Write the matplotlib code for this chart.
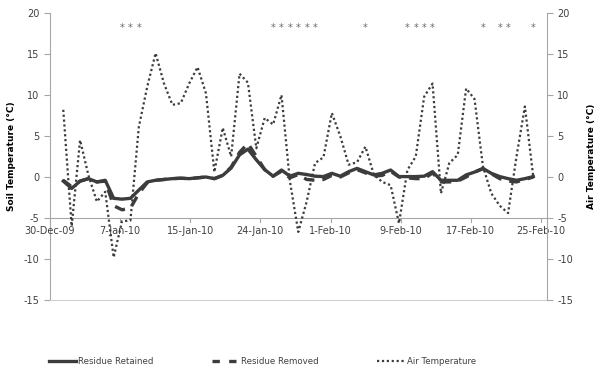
import numpy as np
import matplotlib
matplotlib.use("Agg")
import matplotlib.pyplot as plt
from matplotlib.lines import Line2D

plt.rcParams['axes.unicode_minus'] = False

# daily readings (index 0 = first reading after 30-Dec-09)
air = [8.2, -6.0, 4.5, 0.2, -3.0, -1.8, -9.8, -5.4, -5.3, 6.1,
       11.0, 15.1, 11.4, 8.8, 9.0, 11.4, 13.4, 10.2, 0.6, 6.0,
       2.5, 12.6, 11.5, 3.5, 7.2, 6.4, 10.0, -0.5, -6.7, -3.0,
       1.7, 2.4, 7.8, 5.0, 1.5, 1.8, 3.7, 0.3, -0.6, -1.0,
       -5.65, 0.85, 2.5, 9.8, 11.4, -2.0, 1.7, 2.7, 10.8, 9.5,
       1.3, -2.0, -3.5, -4.4, 2.5, 8.6, 0.0]

retained = [-0.5, -1.4, -0.5, -0.2, -0.6, -0.4, -2.6, -2.7, -2.6, -1.6,
            -0.6, -0.4, -0.3, -0.2, -0.15, -0.2, -0.1, 0.0, -0.2, 0.2,
            1.1, 2.7, 3.4, 2.1, 0.9, 0.1, 0.85, 0.1, 0.45, 0.3,
            0.1, 0.05, 0.45, 0.1, 0.65, 1.05, 0.65, 0.25, 0.45, 0.85,
            0.05, 0.05, 0.05, 0.1, 0.65, -0.4, -0.4, -0.4, 0.25, 0.6,
            1.05, 0.45, 0.05, -0.2, -0.4, -0.2, 0.05]

removed = [-0.4, -1.2, -0.5, -0.2, -0.6, -0.5, -3.5, -4.0, -3.8, -2.0,
           -0.7, -0.4, -0.3, -0.2, -0.15, -0.2, -0.1, 0.0, -0.2, 0.2,
           1.2, 3.0, 4.1, 2.5, 0.9, 0.1, 0.7, -0.1, 0.3, -0.3,
           -0.4, -0.3, 0.2, 0.0, 0.5, 0.9, 0.5, 0.1, 0.2, 0.7,
           0.0, -0.1, -0.2, -0.2, 0.5, -0.6, -0.6, -0.5, 0.0, 0.6,
           1.0, 0.4, -0.2, -0.5, -0.6, -0.3, 0.0]

# days with significant difference
sig_days = [7, 8, 9, 25, 26, 27, 28, 29, 30, 36, 41, 42, 43, 44, 50, 52, 53, 56]

tick_labels = ['30-Dec-09', '7-Jan-10', '15-Jan-10', '24-Jan-10',
               '1-Feb-10', '9-Feb-10', '17-Feb-10', '25-Feb-10']

days = np.arange(len(air))
x0 = -1.585
step = 8.356
tick_pos = x0 + step * np.arange(len(tick_labels))

col = '#3c3c3c'
axcol = '#a6a6a6'
txtcol = '#404040'

fig = plt.figure(figsize=(6, 3.87), dpi=100)
ax = fig.add_axes([0.0833, 0.2248, 0.8283, 0.7416])
ax2 = ax.twinx()

ax.plot(days, removed, color=col, lw=2.4, dashes=(3.2, 2.4), zorder=3)
ax.plot(days, retained, color=col, lw=2.4, zorder=4)
ax2.plot(days, air, color=col, lw=1.6, dashes=(1, 1.2), zorder=2)

for d in sig_days:
    ax.text(d, 18.2, '*', ha='center', va='center', fontsize=7,
            color='#6a6a6a')

for a in (ax, ax2):
    a.set_ylim(-15, 20)
    a.set_yticks(range(-15, 21, 5))
    a.set_xlim(x0, 57.63)
    for s in a.spines.values():
        s.set_visible(False)
    a.tick_params(axis='y', colors=axcol, labelcolor=txtcol, labelsize=7,
                  length=4, width=0.8)

ax.spines['left'].set_visible(True)
ax.spines['left'].set_color(axcol)
ax.spines['bottom'].set_visible(True)
ax.spines['bottom'].set_color('#d0d0d0')
ax2.spines['right'].set_visible(True)
ax2.spines['right'].set_color(axcol)

# category axis crossing at -5
ax.axhline(-5, color=axcol, lw=0.8, zorder=1)
ax.set_xticks([])
for p, lab in zip(tick_pos, tick_labels):
    ax.plot([p, p], [-5, -5.5], color=axcol, lw=0.8, clip_on=False)
    ax.text(p, -6.0, lab, ha='center', va='top', fontsize=7, color=txtcol)

ax.set_ylabel('Soil Temperature (°C)', fontsize=6.5, fontweight='bold')
ax.yaxis.set_label_coords(-0.068, 0.5)
ax2.set_ylabel('Air Temperature (°C)', fontsize=6.5, fontweight='bold',
               rotation=90)
ax2.yaxis.set_label_coords(1.08, 0.5)

handles = [Line2D([], [], color=col, lw=2.4),
           Line2D([], [], color=col, lw=2.4, dashes=(2.2, 2.8)),
           Line2D([], [], color=col, lw=1.6, dashes=(1, 1.2))]
fig.legend(handles, ['Residue Retained', 'Residue Removed', 'Air Temperature'],
           loc='center', bbox_to_anchor=(0.437, 0.065), ncol=3, frameon=False,
           fontsize=6.2, handlelength=3.2, handletextpad=0.2, columnspacing=6.8,
           labelcolor=txtcol)

fig.savefig('out.png', dpi=100)
